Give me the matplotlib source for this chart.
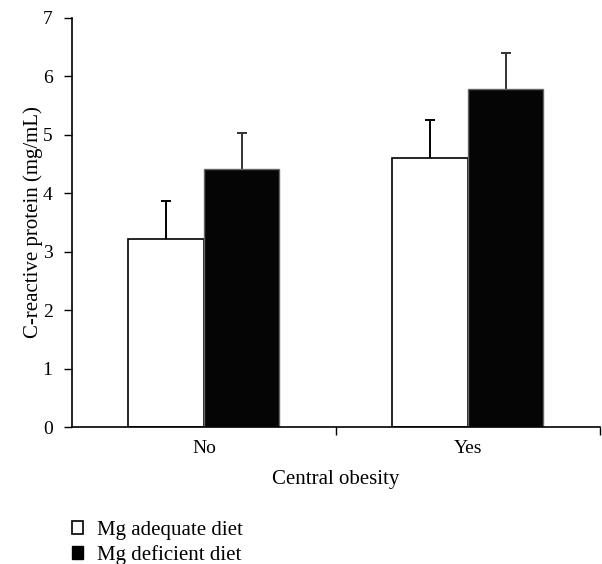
import matplotlib
matplotlib.use("Agg")
import matplotlib.pyplot as plt
import numpy as np
from matplotlib.patches import Patch

plt.rcParams['font.family'] = ['Liberation Serif', 'DejaVu Serif']

categories = ["No", "Yes"]
series_names = ["Mg adequate diet", "Mg deficient diet"]
adequate = [3.22, 4.61]
deficient = [4.41, 5.78]
adequate_err = [0.64, 0.64]
deficient_err = [0.63, 0.62]

fig = plt.figure(figsize=(6.02, 5.64), dpi=100)
ax = fig.add_axes([0.1196, 0.2429, 0.8770, 0.7252])

x = np.arange(len(categories))
w = 0.286
ax.bar(x - w/2, adequate, w, color='white', edgecolor='black', linewidth=1.2, zorder=2)
ax.bar(x + w/2, deficient, w, color='#050505', edgecolor='#666666', linewidth=1.0, zorder=2)
for xs, vals, errs, col in [(x - w/2, adequate, adequate_err, 'black'),
                            (x + w/2, deficient, deficient_err, '#333333')]:
    eb = ax.errorbar(xs, vals, yerr=[np.zeros(len(vals)), errs], fmt='none',
                     ecolor=col, elinewidth=1.4, capsize=3.5, capthick=1.4, zorder=1)
    eb[1][0].set_visible(False)

ax.set_xlim(-0.5, 1.5)
ax.set_ylim(0, 7)
ax.set_yticks(range(0, 8))
ax.set_xticks([0.5, 1.5])
ax.set_xticklabels([])
ax.set_xticks(x, minor=True)
ax.set_xticklabels(categories, minor=True)
ax.tick_params(axis='x', which='minor', length=0, pad=9, labelsize=14)
ax.tick_params(axis='x', which='major', direction='out', length=6, width=1.0)
ax.tick_params(axis='y', direction='out', length=6, width=1.0, labelsize=14, pad=8)
for s in ['top', 'right']:
    ax.spines[s].set_visible(False)
for s in ['left', 'bottom']:
    ax.spines[s].set_linewidth(1.2)
ax.set_xlabel("Central obesity", fontsize=15, labelpad=10)
ax.set_ylabel("C-reactive protein (mg/mL)", fontsize=15, labelpad=0)

handles = [Patch(facecolor='white', edgecolor='black', linewidth=1.2),
           Patch(facecolor='black', edgecolor='black')]
fig.legend(handles, series_names, loc='upper left', bbox_to_anchor=(0.1196, 0.076),
           frameon=False, fontsize=15, handlelength=0.55, handleheight=0.55,
           handletextpad=0.65, labelspacing=0.22, borderpad=0, borderaxespad=0)

fig.savefig("out.png", dpi=100)
